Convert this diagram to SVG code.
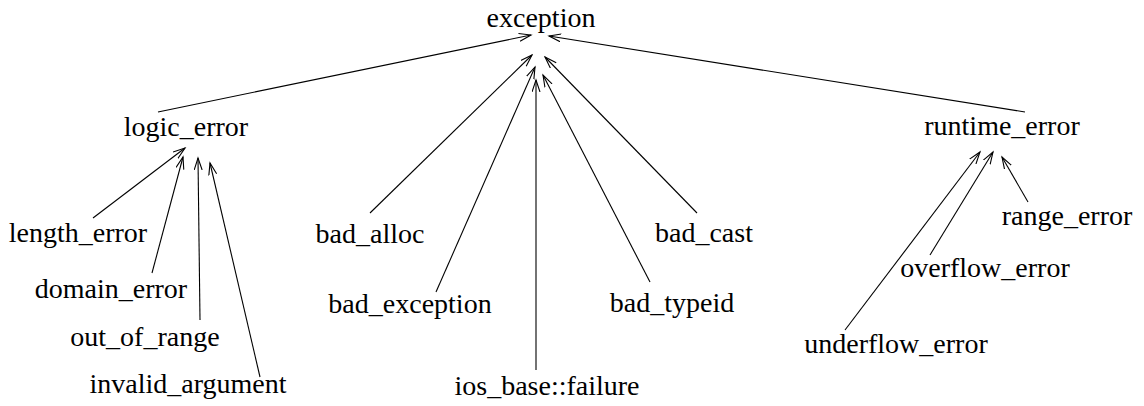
<svg xmlns="http://www.w3.org/2000/svg" width="1144" height="406" viewBox="0 0 1144 406">
<style>
text{font-family:'Liberation Serif','Times New Roman',Tinos,'DejaVu Serif',serif;font-size:28px;fill:#000;text-anchor:middle}
.e line{stroke:#000;stroke-width:1.1;marker-end:url(#a)}
</style>
<defs>
<marker id="a" markerUnits="userSpaceOnUse" markerWidth="14" markerHeight="10" refX="12" refY="4.5" orient="auto" viewBox="0 0 14 10">
<path d="M0,0.5 L12,4.5 L0,8.5" fill="none" stroke="#000" stroke-width="1.1"/>
</marker>
</defs>
<rect width="1144" height="406" fill="#fff"/>
<g font-family="Liberation Serif, Times New Roman, DejaVu Serif, serif">
<g id="exception"><text x="541" y="27">exception</text></g>
<g id="logic_error"><text x="186" y="136">logic_error</text></g>
<g id="runtime_error"><text x="1002" y="135">runtime_error</text></g>
<g id="length_error"><text x="78" y="242">length_error</text></g>
<g id="domain_error"><text x="111" y="298">domain_error</text></g>
<g id="out_of_range"><text x="145" y="346">out_of_range</text></g>
<g id="invalid_argument"><text x="188" y="393">invalid_argument</text></g>
<g id="bad_alloc"><text x="370" y="243">bad_alloc</text></g>
<g id="bad_exception"><text x="410" y="313">bad_exception</text></g>
<g id="ios_base_failure"><text x="547" y="395">ios_base::failure</text></g>
<g id="bad_typeid"><text x="672" y="312">bad_typeid</text></g>
<g id="bad_cast"><text x="704" y="242">bad_cast</text></g>
<g id="range_error"><text x="1067" y="225">range_error</text></g>
<g id="overflow_error"><text x="985" y="277">overflow_error</text></g>
<g id="underflow_error"><text x="896" y="353">underflow_error</text></g>
</g>
<g id="connectors" class="e">
<line x1="158" y1="112" x2="531" y2="35"/>
<line x1="1025" y1="112" x2="549" y2="36"/>
<line x1="370" y1="213" x2="532" y2="55"/>
<line x1="436" y1="292" x2="535" y2="67"/>
<line x1="536" y1="370" x2="536" y2="80"/>
<line x1="650" y1="282" x2="543" y2="75"/>
<line x1="697" y1="213" x2="545" y2="57"/>
<line x1="93" y1="218" x2="185" y2="148"/>
<line x1="152" y1="273" x2="183" y2="157"/>
<line x1="200" y1="320" x2="198" y2="158"/>
<line x1="260" y1="377" x2="210" y2="163"/>
<line x1="845" y1="330" x2="980" y2="152"/>
<line x1="930" y1="255" x2="993" y2="152"/>
<line x1="1028" y1="202" x2="1002" y2="157"/>
</g>
</svg>
